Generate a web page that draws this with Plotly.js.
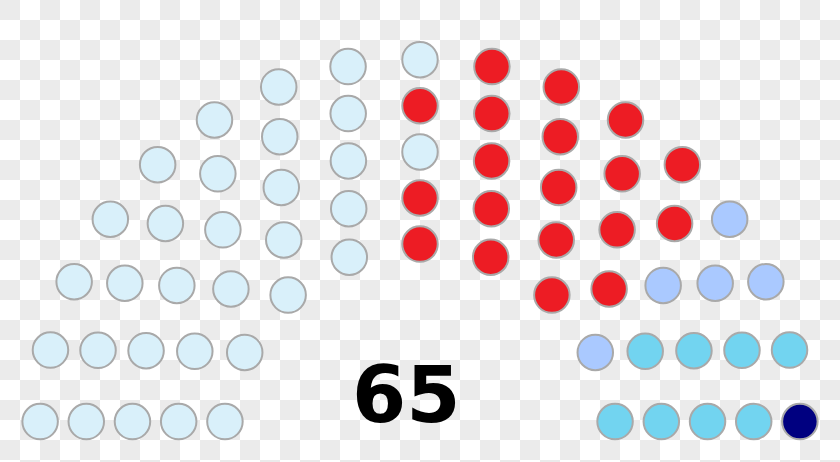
<!DOCTYPE html>
<html>
<head>
<meta charset="utf-8">
<script src="https://cdn.plot.ly/plotly-3.0.1.min.js"></script>
<style>
  html, body { margin: 0; padding: 0; }
  body {
    width: 840px; height: 462px; overflow: hidden;
    background-color: #ffffff;
    background-image:
      linear-gradient(45deg, #ebebeb 25%, transparent 25%, transparent 75%, #ebebeb 75%),
      linear-gradient(45deg, #ebebeb 25%, transparent 25%, transparent 75%, #ebebeb 75%);
    background-size: 40px 40px;
    background-position: 20px 0, 0 20px;
  }
  #chart { width: 840px; height: 462px; }
</style>
</head>
<body>
<div id="chart"></div>
<script>
// parties, left to right
var parties = ["Party A", "Party B", "Party C", "Party D", "Party E"];
var seats = [32, 19, 5, 8, 1];
var colors = ["#d9f0fa", "#ed1c24", "#aac9ff", "#72d4f0", "#000080"];
var totalLabel = "65";

// row capacities used by the arch layout
var Totals = [3, 15, 33, 61, 95, 138, 189, 247, 313, 388, 469, 559, 657, 762, 876];

function archSpots(sum) {
    var rows = 1;
    for (var i = 0; i < Totals.length; i++) {
        if (Totals[i] >= sum) { rows = i + 1; break; }
    }
    var radius = 0.4 / rows;
    var pos = [];
    var R, J, angle;
    for (var i = 1; i < rows; i++) {
        J = Math.floor(sum / Totals[rows - 1] * Math.PI / (2 * Math.asin(2.0 / (3.0 * rows + 4.0 * i - 2.0))));
        R = (3.0 * rows + 4.0 * i - 2.0) / (4.0 * rows);
        if (J == 1) {
            pos.push([Math.PI / 2, 0, R]);
        } else {
            for (var j = 0; j < J; j++) {
                angle = j * (Math.PI - 2.0 * Math.sin(radius / R)) / (J - 1.0) + Math.sin(radius / R);
                pos.push([angle, R * Math.cos(angle), R * Math.sin(angle)]);
            }
        }
    }
    J = sum - pos.length;
    R = (7.0 * rows - 2.0) / (4.0 * rows);
    for (var j = 0; j < J; j++) {
        angle = j * (Math.PI - 2.0 * Math.sin(radius / R)) / (J - 1.0) + Math.sin(radius / R);
        pos.push([angle, R * Math.cos(angle), R * Math.sin(angle)]);
    }
    // largest angle first (left side), ties by x then y
    pos.sort(function(a, b) {
        if (a[0] != b[0]) return b[0] - a[0];
        if (a[1] != b[1]) return b[1] - a[1];
        return b[2] - a[2];
    });
    return pos;
}

var total = 0;
for (var i = 0; i < seats.length; i++) total += seats[i];
var spots = archSpots(total);

var traces = [];
var n = 0;
for (var p = 0; p < parties.length; p++) {
    var xs = [], ys = [];
    for (var k = 0; k < seats[p]; k++) {
        xs.push(spots[n][1]);
        ys.push(spots[n][2]);
        n++;
    }
    traces.push({
        x: xs, y: ys,
        type: 'scatter', mode: 'markers',
        name: parties[p],
        hoverinfo: 'name',
        marker: {
            size: 35.5,
            color: colors[p],
            line: { color: '#a9a9a9', width: 2 }
        }
    });
}

// 230.5 px per unit, centre at x=420, baseline at y=440
var k = 230.5;
var layout = {
    width: 840, height: 462,
    margin: { l: 0, r: 0, t: 0, b: 0 },
    paper_bgcolor: 'rgba(0,0,0,0)',
    plot_bgcolor: 'rgba(0,0,0,0)',
    showlegend: false,
    xaxis: { range: [-420 / k, 420 / k], visible: false, fixedrange: true },
    yaxis: { range: [-22 / k, 440 / k], visible: false, fixedrange: true },
    annotations: [{
        x: -0.058, y: 0.195, xref: 'x', yref: 'y',
        xanchor: 'center', yanchor: 'middle',
        text: '<b>' + totalLabel + '</b>',
        showarrow: false,
        font: { family: 'DejaVu Sans', size: 78, color: '#000000' }
    }]
};

Plotly.newPlot('chart', traces, layout, { displayModeBar: false, staticPlot: true });
</script>
</body>
</html>
